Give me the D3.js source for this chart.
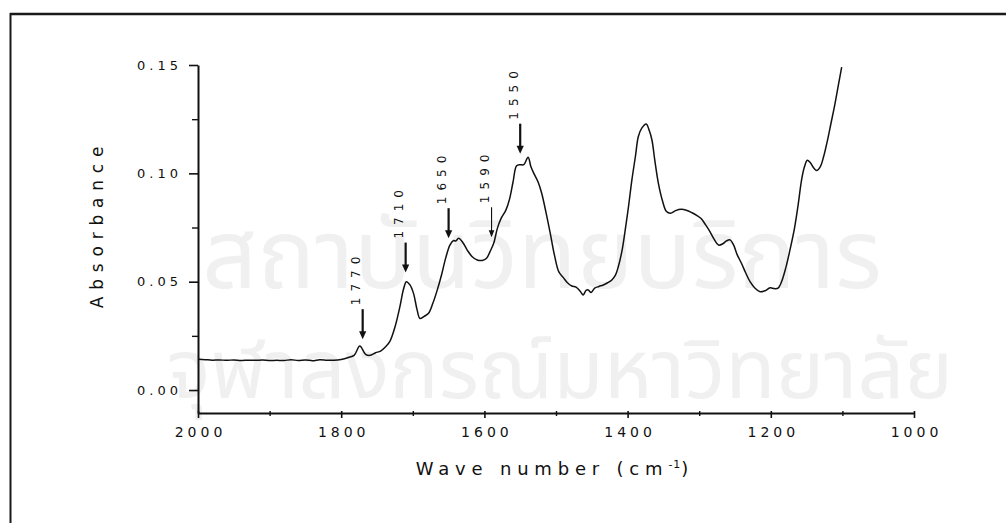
<!DOCTYPE html>
<html>
<head>
<meta charset="utf-8">
<script src="https://cdn.jsdelivr.net/npm/d3@7"></script>
<style>
  html, body { margin: 0; padding: 0; background: #fff; }
  svg { display: block; }
  text { font-family: "DejaVu Sans", Verdana, sans-serif; fill: #111; }
</style>
</head>
<body>
<svg id="chart" width="1006" height="523"></svg>
<script>
// FTIR spectrum: wave number (cm-1) vs absorbance
const wavenumber = [
  2000, 1990, 1980, 1970, 1960, 1950, 1940, 1930, 1920, 1910,
  1900, 1890, 1880, 1870, 1860, 1850, 1840, 1830, 1820, 1810,
  1800, 1790, 1782, 1774, 1766, 1760, 1752, 1745, 1738, 1732,
  1725, 1718, 1713, 1709, 1704, 1699, 1694, 1690, 1684, 1678,
  1672, 1666, 1660, 1654, 1648, 1643, 1640, 1636, 1630, 1624,
  1617, 1610, 1603, 1597, 1592, 1587, 1582, 1577, 1570, 1565,
  1560, 1555, 1550, 1545, 1539, 1535, 1531, 1525, 1520, 1514,
  1508, 1502, 1496, 1490, 1484, 1478, 1472, 1466, 1462, 1458,
  1455, 1451, 1446, 1440, 1434, 1428, 1422, 1417, 1413, 1408,
  1404, 1399, 1394, 1389, 1385, 1380, 1374, 1370, 1366, 1362,
  1357, 1351, 1346, 1340, 1333, 1325, 1318, 1310, 1303, 1297,
  1291, 1285, 1279, 1273, 1267, 1262, 1257, 1252, 1247, 1241,
  1235, 1229, 1222, 1215, 1208, 1201, 1195, 1190, 1185, 1179,
  1173, 1167, 1162, 1157, 1153, 1149, 1145, 1140, 1136, 1131,
  1126, 1121, 1116, 1111, 1106, 1101
];
const absorbance = [
  0.0142, 0.0140, 0.0138, 0.0139, 0.0137, 0.0139, 0.0136, 0.0138, 0.0137, 0.0139,
  0.0136, 0.0137, 0.0136, 0.0140, 0.0136, 0.0139, 0.0135, 0.0140, 0.0138, 0.0137,
  0.0141, 0.0150, 0.0160, 0.0203, 0.0165, 0.0160, 0.0172, 0.0180, 0.0200, 0.0225,
  0.0290, 0.0385, 0.0465, 0.0500, 0.0485, 0.0446, 0.0370, 0.0330, 0.0340, 0.0354,
  0.0400, 0.0460, 0.0530, 0.0610, 0.0670, 0.0690, 0.0688, 0.0700, 0.0680, 0.0646,
  0.0615, 0.0600, 0.0598, 0.0608, 0.0640, 0.0677, 0.0745, 0.0790, 0.0830, 0.0880,
  0.0960, 0.1035, 0.1040, 0.1040, 0.1074, 0.1030, 0.1000, 0.0960, 0.0908, 0.0820,
  0.0723, 0.0620, 0.0545, 0.0520, 0.0495, 0.0480, 0.0475, 0.0455, 0.0439, 0.0460,
  0.0462, 0.0450, 0.0470, 0.0478, 0.0485, 0.0495, 0.0508, 0.0530, 0.0569, 0.0640,
  0.0723, 0.0840, 0.0970, 0.1080, 0.1170, 0.1210, 0.1228, 0.1200, 0.1154, 0.1060,
  0.0954, 0.0870, 0.0825, 0.0816, 0.0828, 0.0834, 0.0830, 0.0818, 0.0805, 0.0790,
  0.0762, 0.0731, 0.0695, 0.0669, 0.0675, 0.0688, 0.0693, 0.0670, 0.0625, 0.0585,
  0.0540, 0.0500, 0.0470, 0.0454, 0.0458, 0.0472, 0.0468, 0.0470, 0.0500, 0.0565,
  0.0650, 0.0745, 0.0850, 0.0970, 0.1030, 0.1060, 0.1050, 0.1025, 0.1013, 0.1030,
  0.1080, 0.1150, 0.1230, 0.1310, 0.1400, 0.1490
];

// Assigned bands marked with arrows
const peakLabels = [1770, 1710, 1650, 1590, 1550];

const xTicks = [2000, 1800, 1600, 1400, 1200, 1000];
const xTickLabels = ["2000", "1800", "1600", "1400", "1200", "1000"];
const xMinorTicks = [1900, 1700, 1500, 1300, 1100];
const yTicks = [0, 0.05, 0.10, 0.15];
const yTickLabels = ["0.00", "0.05", "0.10", "0.15"];
const yMinorTicks = [0.025, 0.075, 0.125];

const svg = d3.select("#chart");

// Faint background watermark lines
const thaiFont = "'Noto Sans Thai','Loma','Garuda','Tlwg Typo','Norasi',sans-serif";
const watermark = svg.append("g");
watermark.append("text")
  .attr("x", 542).attr("y", 288)
  .attr("text-anchor", "middle")
  .style("font-family", thaiFont)
  .style("font-size", "96px").style("fill", "#f0f0f0")
  .text("สถาบันวิทยบริการ");
watermark.append("text")
  .attr("x", 560).attr("y", 398)
  .attr("text-anchor", "middle")
  .style("font-family", thaiFont)
  .style("font-size", "82px").style("fill", "#f0f0f0")
  .text("จุฬาลงกรณ์มหาวิทยาลัย");

// Page frame (top and left edges)
svg.append("line").attr("x1", 10).attr("x2", 1006).attr("y1", 14).attr("y2", 14)
  .attr("stroke", "#1a1a1a").attr("stroke-width", 2.5);
svg.append("line").attr("x1", 10.5).attr("x2", 10.5).attr("y1", 13).attr("y2", 523)
  .attr("stroke", "#1a1a1a").attr("stroke-width", 2);

// Scales
const x = d3.scaleLinear().domain([2000, 1000]).range([198, 914]);
const y = d3.scaleLinear().domain([-0.0106, 0.15]).range([413, 65]);

// X axis
const xAxis = svg.append("g").attr("transform", "translate(0,413)")
  .call(d3.axisBottom(x).tickValues(xTicks)
    .tickFormat((d, i) => xTickLabels[i])
    .tickSizeInner(5).tickSizeOuter(0).tickPadding(9));
xAxis.select(".domain").attr("stroke", "#111").attr("stroke-width", 2);
xAxis.selectAll(".tick line").attr("stroke", "#111").attr("stroke-width", 1.6).attr("y1", -2);
xAxis.selectAll(".tick text")
  .style("font-size", "14px").style("letter-spacing", "4px")
  .attr("dx", 2).attr("fill", "#111");
svg.append("g").attr("transform", "translate(0,413)")
  .call(d3.axisBottom(x).tickValues(xMinorTicks).tickFormat("").tickSizeInner(3).tickSizeOuter(0))
  .call(g => g.select(".domain").remove())
  .selectAll(".tick line").attr("stroke", "#111").attr("stroke-width", 1.4).attr("y1", -2);

// Y axis
const yAxis = svg.append("g").attr("transform", "translate(198,0)")
  .call(d3.axisLeft(y).tickValues(yTicks)
    .tickFormat((d, i) => yTickLabels[i])
    .tickSizeInner(9).tickSizeOuter(0).tickPadding(7));
yAxis.select(".domain").attr("stroke", "#111").attr("stroke-width", 2);
yAxis.selectAll(".tick line").attr("stroke", "#111").attr("stroke-width", 1.6);
yAxis.selectAll(".tick text")
  .style("font-size", "13px").style("letter-spacing", "4px")
  .attr("fill", "#111");
svg.append("g").attr("transform", "translate(198,0)")
  .call(d3.axisLeft(y).tickValues(yMinorTicks).tickFormat("").tickSizeInner(6).tickSizeOuter(0))
  .call(g => g.select(".domain").remove())
  .selectAll(".tick line").attr("stroke", "#111").attr("stroke-width", 1.4);

// Axis titles
svg.append("text")
  .attr("transform", "translate(103,224) rotate(-90)")
  .attr("text-anchor", "middle")
  .style("font-size", "17px").style("letter-spacing", "6.8px")
  .text("Absorbance");

const xTitle = svg.append("text")
  .attr("x", 555).attr("y", 475)
  .attr("text-anchor", "middle")
  .style("font-size", "18px").style("letter-spacing", "5.8px");
xTitle.append("tspan").text("Wave number (cm");
xTitle.append("tspan").attr("dy", -7).style("font-size", "11px").style("letter-spacing", "1px").text("-1");
xTitle.append("tspan").attr("dy", 7).text(")");

// Spectrum trace
const spectrum = wavenumber.map((w, i) => [w, absorbance[i]]);
svg.append("path")
  .datum(spectrum)
  .attr("fill", "none")
  .attr("stroke", "#111")
  .attr("stroke-width", 1.5)
  .attr("stroke-linejoin", "round")
  .attr("d", d3.line().x(d => x(d[0])).y(d => y(d[1])).curve(d3.curveCatmullRom.alpha(0.5)));

// Absorbance on the trace at a given wave number (linear between samples)
function absorbanceAt(w) {
  for (let i = 0; i < wavenumber.length - 1; i++) {
    const a = wavenumber[i], b = wavenumber[i + 1];
    if (w <= a && w >= b) {
      const t = (a - w) / (a - b);
      return absorbance[i] + t * (absorbance[i + 1] - absorbance[i]);
    }
  }
  return absorbance[absorbance.length - 1];
}

// Band arrows with rotated labels
const thinArrows = new Set([1590]);
const arrows = svg.append("g");
peakLabels.forEach(w => {
  const ax = x(w);
  const tip = y(absorbanceAt(w)) - 11;
  const tail = tip - 30;
  const thin = thinArrows.has(w);
  const head = thin ? 7 : 8, half = thin ? 2.8 : 3.6;
  arrows.append("line")
    .attr("x1", ax).attr("x2", ax).attr("y1", tail).attr("y2", tip - head + 1)
    .attr("stroke", "#111").attr("stroke-width", thin ? 1.1 : 2.2);
  arrows.append("path")
    .attr("d", `M${ax - half},${tip - head}L${ax + half},${tip - head}L${ax},${tip}Z`)
    .attr("fill", "#111");
  arrows.append("text")
    .attr("transform", `translate(${ax - 2.5},${tail - 4}) rotate(-90)`)
    .attr("text-anchor", "start")
    .style("font-size", "12px").style("letter-spacing", "6px")
    .text(String(w));
});
</script>
</body>
</html>
